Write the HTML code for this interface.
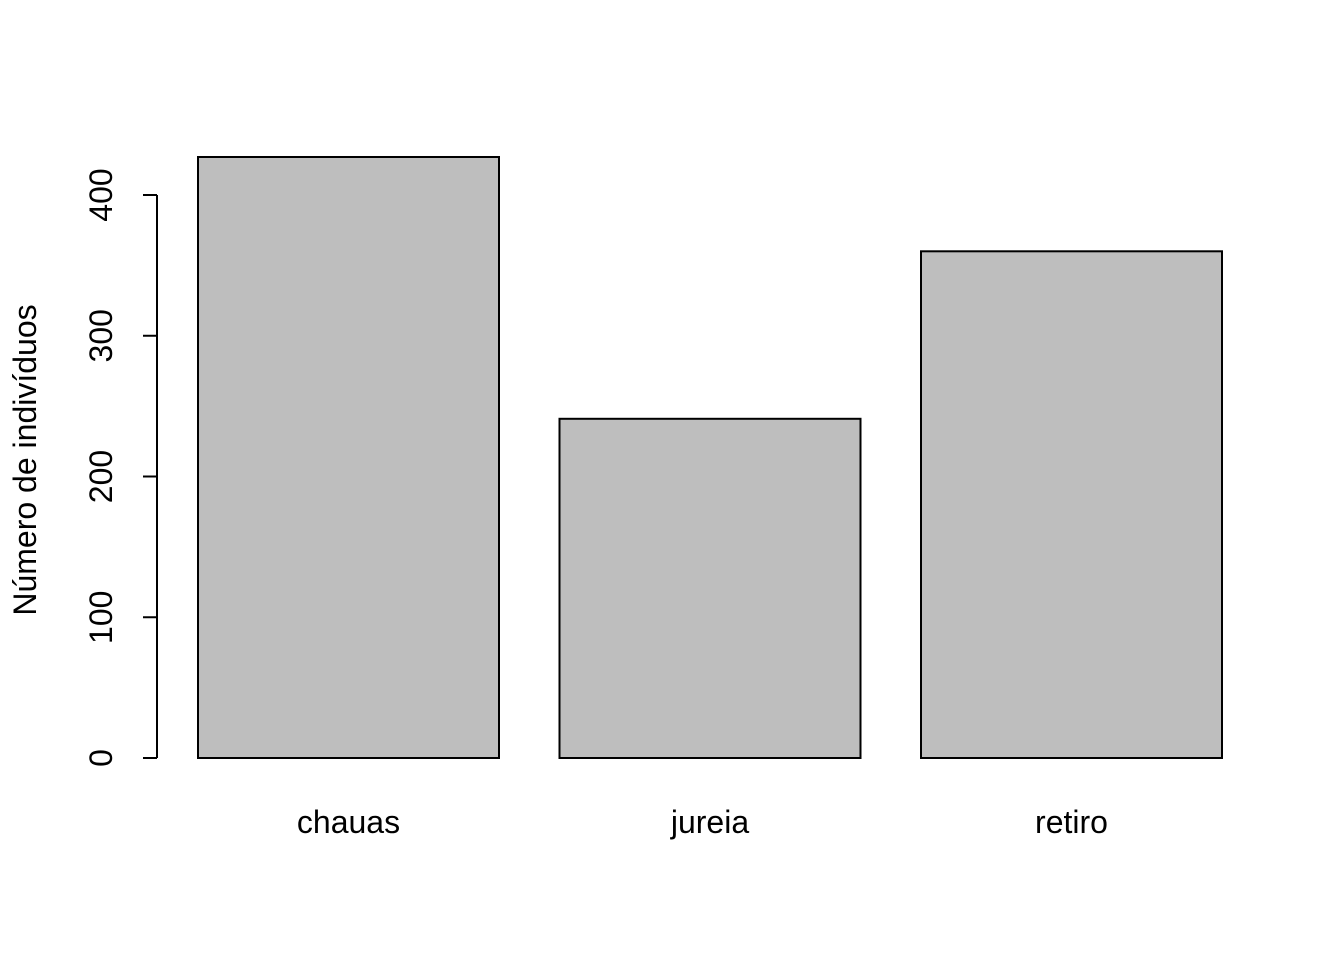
<!DOCTYPE html>
<html><head><meta charset="utf-8"><style>
body{margin:0;background:#fff}
svg{display:block}
text{font-family:"Liberation Sans",Arial,sans-serif;font-size:32px;fill:#000}
</style></head><body>
<svg id="chart" width="1344" height="960" viewBox="0 0 1344 960">
<g id="bars"></g><g id="axis"></g>
<text transform="translate(36,460) rotate(-90)" text-anchor="middle">Número de indivíduos</text>
</svg>
<script>
const categories=["chauas","jureia","retiro"];
const values=[427,241,360];
const ticks=[0,100,200,300,400];
const ns="http://www.w3.org/2000/svg";
const y0=758, pxPer=563/400;
const y=v=>y0-v*pxPer;
const barLeft=i=>198+i*361.5, barW=301;
const bars=document.getElementById('bars'), axis=document.getElementById('axis');
function mk(tag,attrs,parent){const e=document.createElementNS(ns,tag);for(const k in attrs)e.setAttribute(k,attrs[k]);parent.appendChild(e);return e;}
categories.forEach((c,i)=>{
  const r=mk('rect',{x:barLeft(i),y:y(values[i]),width:barW,height:y0-y(values[i]),fill:'#bebebe',stroke:'#000','stroke-width':2},bars);
  
  
  const t=mk('text',{x:barLeft(i)+barW/2,y:833,'text-anchor':'middle'},bars);
  t.textContent=c;
  
  
});
const al=mk('line',{x1:157,x2:157,y1:y(ticks[0]),y2:y(ticks[ticks.length-1]),stroke:'#000','stroke-width':2},axis);


ticks.forEach(v=>{
  const l=mk('line',{x1:143,x2:157,y1:y(v),y2:y(v),stroke:'#000','stroke-width':2},axis);
  
  
  const t=mk('text',{transform:`translate(112,${y(v)}) rotate(-90)`,'text-anchor':'middle'},axis);
  t.textContent=v;
  
  
});
</script>
</body></html>
